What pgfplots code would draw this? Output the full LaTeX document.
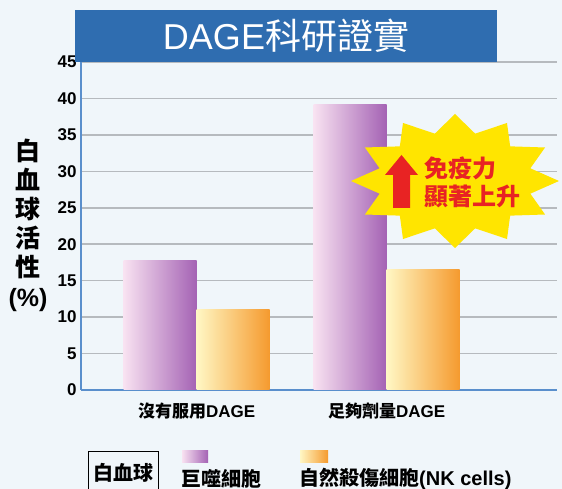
\documentclass[border=0pt]{standalone}
\usepackage{pgfplots}
\pgfplotsset{compat=1.18}
\usepackage{fontspec}
\setmainfont{Liberation Sans}
\newfontfamily\cjk{Noto Sans CJK TC}
\definecolor{bg}{HTML}{F0F6FA}
\definecolor{titleblue}{HTML}{2F6DB0}
\definecolor{axisblue}{HTML}{5A8FCC}
\definecolor{gridgray}{HTML}{B6BABE}
\definecolor{pinkL}{HTML}{F8E2F1}
\definecolor{purpR}{HTML}{A462B4}
\definecolor{yelL}{HTML}{FFF7C4}
\definecolor{orgR}{HTML}{F59A2E}
\definecolor{burst}{HTML}{FFE500}
\definecolor{arrowred}{HTML}{E82323}
\begin{document}
\begin{tikzpicture}[x=1pt,y=1pt]
\fill[bg] (0,0) rectangle (562,489);
\useasboundingbox (0,0) rectangle (562,489);
\begin{axis}[
  at={(81pt,99pt)}, anchor=south west,
  scale only axis, width=476pt, height=328pt,
  xmin=-0.609, xmax=1.896, ymin=0, ymax=45,
  axis x line*=bottom, axis y line*=left,
  axis line style={axisblue, line width=1.5pt, -},
  ytick={0,5,...,45}, xtick={0,1},
  xticklabels={{{\cjk\bfseries 沒有服用}DAGE},{{\cjk\bfseries 足夠劑量}DAGE}},
  major tick length=0pt,
  ymajorgrids, grid style={gridgray, line width=1.5pt},
  /pgf/number format/assume math mode=true,
  tick label style={font=\bfseries\fontsize{17}{17}\selectfont},
  yticklabel style={xshift=-1pt},
  xticklabel style={yshift=-9pt},
  clip=false,
]
\addplot[ybar, bar width=73pt, bar shift=-36.5pt, draw=none, left color=pinkL, right color=purpR] coordinates {(0,17.8)};
\addplot[ybar, bar width=73pt, bar shift=36.5pt, draw=none, left color=yelL, right color=orgR] coordinates {(0,11.1)};
\addplot[ybar, bar width=73pt, bar shift=-36.5pt, draw=none, left color=pinkL, right color=purpR] coordinates {(1,39.2)};
\addplot[ybar, bar width=73pt, bar shift=36.5pt, draw=none, left color=yelL, right color=orgR] coordinates {(1,16.6)};
\end{axis}
% title banner
\fill[titleblue] (75,427) rectangle (497,479);
\node[text=white, font=\fontsize{36}{36}\selectfont] at (286,453) {DAGE{\cjk 科研證實}};
% y label
\node[font=\cjk\bfseries\fontsize{25}{29.2}\selectfont, align=center] at (28,264) {白\\血\\球\\活\\性\\{\bfseries\rmfamily (\%)}};
% starburst
\fill[burst] plot[samples at={0,...,23}, variable=\k]
  ({455+ifthenelse(mod(\k,2)==0,104,78)*cos(\k*360/24)}, {308+ifthenelse(mod(\k,2)==0,67,49)*sin(\k*360/24)}) -- cycle;
\fill[arrowred] (393,281)--(410,281)--(410,314)--(418,314)--(401.5,334)--(385,314)--(393,314)--cycle;
\node[anchor=west, text=arrowred, font=\cjk\bfseries\fontsize{24}{24}\selectfont, inner sep=0pt] at (424,321) {免疫力};
\node[anchor=west, text=arrowred, font=\cjk\bfseries\fontsize{24}{24}\selectfont, inner sep=0pt] at (424,293) {顯著上升};
% legend
\draw[line width=1pt] (88,-6) rectangle (158,37);
\node[font=\cjk\bfseries\fontsize{20}{20}\selectfont] at (123,16) {白血球};
\shade[left color=pinkL, right color=purpR] (182,26) rectangle (208,38);
\node[anchor=west, inner sep=0pt, font=\cjk\bfseries\fontsize{20}{20}\selectfont] at (181,10) {巨噬細胞};
\shade[left color=yelL, right color=orgR] (300,26) rectangle (328,38);
\node[anchor=west, inner sep=0pt, font=\bfseries\fontsize{20}{20}\selectfont] at (299,10) {{\cjk 自然殺傷細胞}(NK cells)};
\end{tikzpicture}
\end{document}
